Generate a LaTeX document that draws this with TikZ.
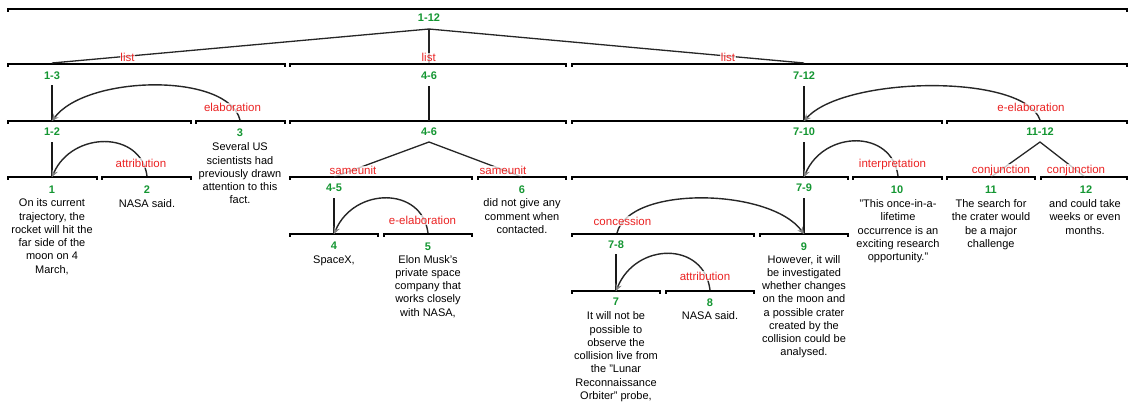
\documentclass[tikz,border=0pt]{standalone}
\usepackage{fontspec}
\setmainfont{Liberation Sans}
\usetikzlibrary{arrows.meta}
\definecolor{spangreen}{RGB}{20,150,50}
\definecolor{relred}{RGB}{235,35,35}
\tikzset{
  bar/.style={line width=2.2pt, line cap=butt, line join=miter},
  link/.style={line width=1.3pt, draw=black!85},
  stem/.style={line width=1.1pt, draw=black!90},
  relarc/.style={line width=1.4pt, draw=black!85, -{Stealth[length=7pt,width=6.5pt,inset=2.5pt,color=black!50]}},
  spanlbl/.style={font=\fontsize{11}{13}\selectfont\bfseries, text=spangreen, anchor=base, inner sep=0pt},
  rel/.style={font=\fontsize{11.5}{13}\selectfont, text=relred, anchor=base, inner sep=0.8pt,
              fill=white, fill opacity=0.75, text opacity=1},
  edu/.style={font=\fontsize{11}{13.25}\selectfont, align=center, anchor=north, inner sep=0pt},
}
% bracket for a span: horizontal rule with short ticks at both ends
\newcommand\spanbar[3]{\draw[bar] (#1,#3+2.5) -- (#1,#3) -- (#2,#3) -- (#2,#3+2.5);}
\newcommand\fl{\rule{0pt}{9pt}}
\begin{document}
\begin{tikzpicture}[x=1pt,y=-1pt]
\useasboundingbox (0,0) rectangle (1129,405);

% ---------- span brackets ----------
\spanbar{8}{1127}{9}
\spanbar{8}{285}{64}  \spanbar{290}{566}{64}  \spanbar{572}{1127}{64}
\spanbar{8}{191}{121} \spanbar{196}{285}{121} \spanbar{290}{566}{121}
\spanbar{572}{942}{121} \spanbar{947}{1127}{121}
\spanbar{8}{97}{177} \spanbar{102}{191}{177}
\spanbar{290}{472}{177} \spanbar{478}{566}{177}
\spanbar{572}{848}{177} \spanbar{853}{942}{177}
\spanbar{947}{1035}{177} \spanbar{1041}{1127}{177}
\spanbar{290}{378}{234} \spanbar{384}{472}{234}
\spanbar{572}{754}{234} \spanbar{760}{848}{234}
\spanbar{572}{660}{291} \spanbar{666}{754}{291}

% ---------- attachment points ----------
\coordinate (root) at (429,29);
\coordinate (a13) at (52,63);
\coordinate (a46) at (429,63);
\coordinate (a712) at (804,63);
\coordinate (v13t) at (52,85);   \coordinate (v13b) at (52,121);
\coordinate (v12t) at (52,142);  \coordinate (v12b) at (52,177);
\coordinate (v46t) at (429,86);  \coordinate (v46b) at (429,121);
\coordinate (v45t) at (334,198); \coordinate (v45b) at (334,234);
\coordinate (v712t) at (804,86); \coordinate (v712b) at (804,121);
\coordinate (v710t) at (804,142);\coordinate (v710b) at (804,177);
\coordinate (v79t) at (804,198); \coordinate (v79b) at (804,234);
\coordinate (v78t) at (616,254); \coordinate (v78b) at (616,291);
\coordinate (m46) at (429,142);
\coordinate (m45) at (334,177);  \coordinate (m6) at (522,177);
\coordinate (m1112) at (1040,142);
\coordinate (m11) at (991,177);  \coordinate (m12) at (1085,177);
\coordinate (s3) at (240,120);
\coordinate (s2) at (147,176);
\coordinate (s5) at (428,233);
\coordinate (s1112) at (1040,120);
\coordinate (s10) at (898,176);
\coordinate (s78) at (617,233);
\coordinate (s8) at (710,290);

% ---------- multinuclear links ----------
\draw[link] (a13) -- (root) -- (a712);
\draw[link] (root) -- (a46);
\draw[link] (m45) -- (m46) -- (m6);
\draw[link] (m11) -- (m1112) -- (m12);

% ---------- nucleus stems ----------
\foreach \p in {13,12,46,45,712,710,79,78}
  \draw[stem] (v\p t) -- (v\p b);

% ---------- satellite arcs ----------
\draw[relarc] (s3) .. controls +(-12,-48) and +(34,-46) .. (v13b);
\draw[relarc] (s2) .. controls +(-6,-46) and +(20,-46) .. (v12b);
\draw[relarc] (s5) .. controls +(-6,-47) and +(20,-47) .. (v45b);
\draw[relarc] (s1112) .. controls +(-16,-47) and +(40,-45) .. (v712b);
\draw[relarc] (s10) .. controls +(-6,-47) and +(20,-47) .. (v710b);
\draw[relarc] (s78) .. controls +(12,-48) and +(-34,-46) .. (v79b);
\draw[relarc] (s8) .. controls +(-6,-49) and +(20,-49) .. (v78b);

% ---------- relation names ----------
\node[rel] (rl1) at (127.5,61.7) {list};
\node[rel] (rl2) at (428.7,61.7) {list};
\node[rel] (rl3) at (728,61.3) {list};
\node[rel] (rel3) at (232.5,111.7) {elaboration};
\node[rel] (rat2) at (141,167) {attribution};
\node[rel] (rsu1) at (353,174.7) {sameunit};
\node[rel] (rsu2) at (503,174.7) {sameunit};
\node[rel] (rel5) at (422.5,224) {e-elaboration};
\node[rel] (rcon) at (622.5,225) {concession};
\node[rel] (rat8) at (705,280) {attribution};
\node[rel] (rint) at (892.5,167) {interpretation};
\node[rel] (rel1112) at (1031,111.7) {e-elaboration};
\node[rel] (rcj1) at (1001,173.3) {conjunction};
\node[rel] (rcj2) at (1076,173.3) {conjunction};

% ---------- span numbers ----------
\node[spanlbl] (n112) at (429,21.7) {1-12};
\node[spanlbl] (n13) at (52,79) {1-3};
\node[spanlbl] (n46) at (429,79) {4-6};
\node[spanlbl] (n712) at (804,79) {7-12};
\node[spanlbl] (n12s) at (52,135) {1-2};
\node[spanlbl] (n3) at (240,136) {3};
\node[spanlbl] (n46b) at (429,135) {4-6};
\node[spanlbl] (n710) at (804,135) {7-10};
\node[spanlbl] (n1112) at (1040,135) {11-12};
\node[spanlbl] (n1) at (52,193) {1};
\node[spanlbl] (n2) at (147,193) {2};
\node[spanlbl] (n45) at (334,191.7) {4-5};
\node[spanlbl] (n6) at (522,193) {6};
\node[spanlbl] (n79) at (804,191.3) {7-9};
\node[spanlbl] (n10) at (897,193) {10};
\node[spanlbl] (n11) at (991,193) {11};
\node[spanlbl] (n12) at (1086,193) {12};
\node[spanlbl] (n4) at (334,249.7) {4};
\node[spanlbl] (n5) at (428,250) {5};
\node[spanlbl] (n78) at (616,248) {7-8};
\node[spanlbl] (n9) at (804,250) {9};
\node[spanlbl] (n7) at (616,305.7) {7};
\node[spanlbl] (n8) at (710,306) {8};

% ---------- elementary units ----------
\node[edu] (t1) at (52,197.7) {\fl On its current\\trajectory, the\\rocket will hit the\\far side of the\\moon on 4\\March,};
\node[edu] (t2) at (147,198) {\fl NASA said.};
\node[edu] (t3) at (240,141.7) {\fl Several US\\scientists had\\previously drawn\\attention to this\\fact.};
\node[edu] (t4) at (334,254.3) {\fl SpaceX,};
\node[edu] (t5) at (428,254) {\fl Elon Musk's\\private space\\company that\\works closely\\with NASA,};
\node[edu] (t6) at (522,197.7) {\fl did not give any\\comment when\\contacted.};
\node[edu] (t7) at (616,310.7) {\fl It will not be\\possible to\\observe the\\collision live from\\the "Lunar\\Reconnaissance\\Orbiter" probe,};
\node[edu] (t8) at (710,310.7) {\fl NASA said.};
\node[edu] (t9) at (804,254) {\fl However, it will\\be investigated\\whether changes\\on the moon and\\a possible crater\\created by the\\collision could be\\analysed.};
\node[edu] (t10) at (898,198.3) {\fl "This once-in-a-\\lifetime\\occurrence is an\\exciting research\\opportunity."};
\node[edu] (t11) at (991,198.3) {\fl The search for\\the crater would\\be a major\\challenge};
\node[edu] (t12) at (1085,198.3) {\fl and could take\\weeks or even\\months.};
\end{tikzpicture}
\end{document}
